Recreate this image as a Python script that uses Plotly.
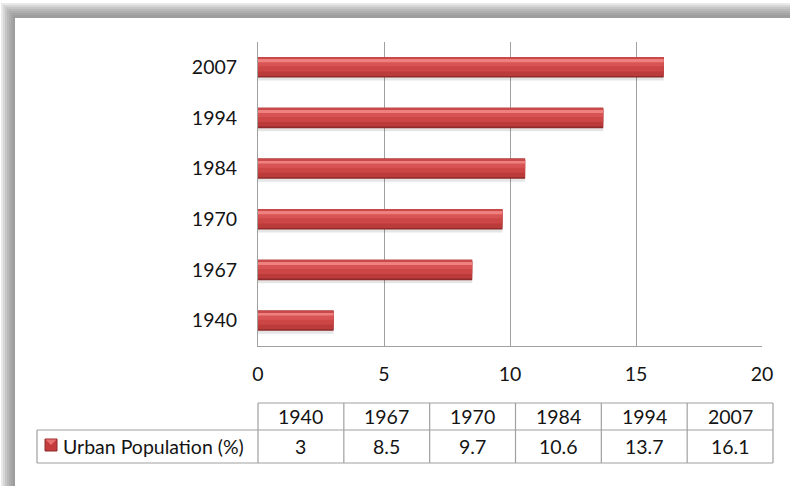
import plotly.graph_objects as go

years = ["1940", "1967", "1970", "1984", "1994", "2007"]
urban_pct = [3, 8.5, 9.7, 10.6, 13.7, 16.1]
series_name = "Urban Population (%)"
x_ticks = [0, 5, 10, 15, 20]

W, H = 790, 486
L, R, T, B = 258, 762, 42, 346
FONT = "Lato"
FS = 19.5
TXT = "#141414"
GRID = "#a0a0a0"


def px(x):
    return (x - L) / (R - L)


def py(y):
    return (B - y) / (B - T)


fig = go.Figure()

# layered bars to mimic the bevelled look
layers = [
    (-0.26, 0.46, "rgba(0,0,0,0.10)"),
    (-0.20, 0.40, "#8e2a2a"),
    (-0.17, 0.35, "#bb3a3a"),
    (-0.08, 0.24, "#cd4646"),
    (0.02, 0.14, "#d85454"),
    (0.10, 0.065, "#ee8080"),
    (0.165, 0.035, "#c94848"),
]
for off, wid, col in layers:
    fig.add_trace(go.Bar(
        y=years, x=urban_pct, orientation="h",
        offset=off, width=wid,
        marker=dict(color=col, line=dict(width=0)),
        showlegend=False, hoverinfo="skip" if col.startswith("rgba") else None,
        name=series_name,
    ))

shapes = []
# frame shadow (top & left)
for k in [1, 3, 5, 7, 9, 11, 13]:
    shapes.append(dict(type="rect", xref="paper", yref="paper",
                       x0=px(k), x1=px(W + 20), y0=py(k + 2), y1=py(H + 20),
                       line=dict(width=0), fillcolor="rgba(120,120,120,0.16)", layer="below"))
shapes.append(dict(type="rect", xref="paper", yref="paper",
                   x0=px(15), x1=px(W + 20), y0=py(18), y1=py(H + 20),
                   line=dict(width=0), fillcolor="white", layer="below"))

# data table
n = len(years)
col_left = L
col_right = 773
col_w = (col_right - col_left) / n
row_top, row_mid, row_bot = 403, 430, 463
label_left = 37
lc = dict(color=GRID, width=1.2)
shapes.append(dict(type="line", xref="paper", yref="paper", x0=px(col_left), x1=px(col_right),
                   y0=py(row_top), y1=py(row_top), line=lc, layer="below"))
shapes.append(dict(type="line", xref="paper", yref="paper", x0=px(label_left), x1=px(col_right),
                   y0=py(row_mid), y1=py(row_mid), line=lc, layer="below"))
shapes.append(dict(type="line", xref="paper", yref="paper", x0=px(label_left), x1=px(col_right),
                   y0=py(row_bot), y1=py(row_bot), line=lc, layer="below"))
shapes.append(dict(type="line", xref="paper", yref="paper", x0=px(label_left), x1=px(label_left),
                   y0=py(row_mid), y1=py(row_bot), line=lc, layer="below"))
for i in range(n + 1):
    xx = col_left + i * col_w
    shapes.append(dict(type="line", xref="paper", yref="paper", x0=px(xx), x1=px(xx),
                       y0=py(row_top), y1=py(row_bot), line=lc, layer="below"))
# legend key
shapes.append(dict(type="rect", xref="paper", yref="paper", x0=px(45), x1=px(57),
                   y0=py(439), y1=py(451), line=dict(color="#8e2a2a", width=1),
                   fillcolor="#c43c3c", layer="above"))
shapes.append(dict(type="path", xref="paper", yref="paper",
                   path=f"M {px(45.5)},{py(439.5)} L {px(56.5)},{py(439.5)} L {px(51)},{py(445)} Z",
                   line=dict(width=0), fillcolor="#e87070", layer="above"))

annotations = []
for i, (yr, v) in enumerate(zip(years, urban_pct)):
    cx = col_left + (i + 0.5) * col_w
    annotations.append(dict(xref="paper", yref="paper", x=px(cx), y=py((row_top + row_mid) / 2),
                            text=yr, showarrow=False, xanchor="center", yanchor="middle",
                            font=dict(family=FONT, size=FS, color=TXT)))
    annotations.append(dict(xref="paper", yref="paper", x=px(cx), y=py((row_mid + row_bot) / 2),
                            text=f"{v:g}", showarrow=False, xanchor="center", yanchor="middle",
                            font=dict(family=FONT, size=FS, color=TXT)))
annotations.append(dict(xref="paper", yref="paper", x=px(61), y=py((row_mid + row_bot) / 2),
                        text=series_name, showarrow=False, xanchor="left", yanchor="middle",
                        font=dict(family=FONT, size=FS, color=TXT)))

fig.update_layout(
    width=W, height=H,
    margin=dict(l=L, r=W - R, t=T, b=H - B, pad=0),
    paper_bgcolor="white", plot_bgcolor="white",
    barmode="overlay", bargap=0.6,
    showlegend=False,
    shapes=shapes, annotations=annotations,
    font=dict(family=FONT, size=FS, color=TXT),
    xaxis=dict(range=[0, 20], tickvals=x_ticks, ticktext=[str(t) for t in x_ticks],
               showgrid=True, gridcolor=GRID, gridwidth=1, zeroline=False,
               showline=True, linecolor=GRID, linewidth=1, mirror=False,
               ticks="outside", ticklen=11, tickcolor="rgba(0,0,0,0)",
               tickfont=dict(family=FONT, size=FS, color=TXT), fixedrange=True),
    yaxis=dict(type="category", categoryorder="array", categoryarray=years,
               range=[-0.5, n - 0.5], showgrid=False, zeroline=False,
               showline=True, linecolor=GRID, linewidth=1,
               ticks="outside", ticklen=16, tickcolor="rgba(0,0,0,0)",
               tickfont=dict(family=FONT, size=FS, color=TXT), fixedrange=True),
)

fig.write_html("out.html", config={"displayModeBar": False},
               post_script="document.body.style.margin='0px';document.body.style.overflow='hidden';")
